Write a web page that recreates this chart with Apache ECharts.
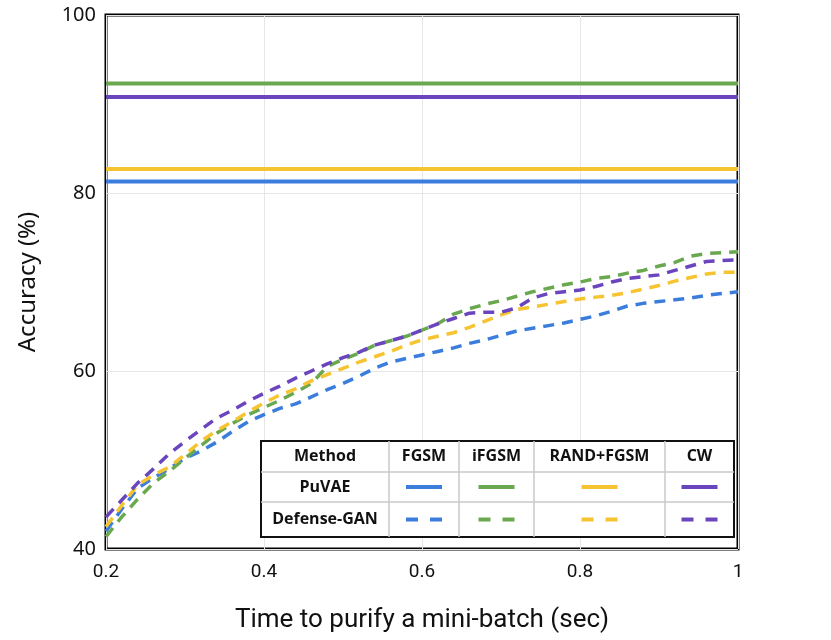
<!DOCTYPE html>
<html>
<head>
<meta charset="utf-8">
<script src="https://cdn.jsdelivr.net/npm/echarts@6/dist/echarts.min.js"></script>
<style>
  html, body { margin: 0; padding: 0; background: #fff; }
  #chart { width: 831px; height: 640px; }
</style>
</head>
<body>
<div id="chart"></div>
<script>
// x axis: time to purify (sec)
const times = [0.2, 0.22, 0.24, 0.26, 0.28, 0.3, 0.32, 0.34, 0.36, 0.38,
  0.4, 0.42, 0.44, 0.46, 0.48, 0.5, 0.52, 0.54, 0.56, 0.58,
  0.6, 0.62, 0.64, 0.66, 0.68, 0.7, 0.72, 0.74, 0.76, 0.78,
  0.8, 0.82, 0.84, 0.86, 0.88, 0.9, 0.92, 0.94, 0.96, 0.98, 1.0];

// attacks (column order of the legend table)
const attacks = ["FGSM", "iFGSM", "RAND+FGSM", "CW"];
const colors = ["#3b7ddd", "#6aa84f", "#f6c331", "#6a45be"];

// PuVAE accuracy (constant)
const puvae = [81.3, 92.3, 82.7, 90.8];

// Defense-GAN accuracy over time
const ganFGSM = [42.0, 44.5, 46.8, 48.0, 49.0, 50.2, 51.0, 52.0, 53.2, 54.3,
  55.1, 55.8, 56.3, 57.1, 57.9, 58.6, 59.4, 60.3, 61.0, 61.4,
  61.8, 62.2, 62.6, 63.1, 63.5, 64.0, 64.5, 64.8, 65.1, 65.4,
  65.8, 66.2, 66.7, 67.3, 67.6, 67.8, 68.0, 68.2, 68.5, 68.7, 68.9];
const ganIFGSM = [41.4, 43.6, 45.6, 47.4, 48.7, 50.2, 51.6, 53.0, 54.1, 55.1,
  55.9, 56.7, 57.6, 58.6, 60.5, 61.3, 62.0, 62.9, 63.4, 63.9,
  64.6, 65.3, 66.4, 67.0, 67.5, 67.9, 68.4, 68.9, 69.3, 69.7,
  70.0, 70.4, 70.6, 71.0, 71.3, 71.8, 72.2, 72.9, 73.2, 73.3, 73.4];
const ganRAND = [42.5, 44.9, 47.2, 48.3, 49.2, 50.6, 52.1, 53.3, 54.3, 55.4,
  56.4, 57.3, 58.0, 58.9, 59.6, 60.3, 61.0, 61.6, 62.2, 62.9,
  63.5, 63.9, 64.3, 64.9, 65.6, 66.3, 66.9, 67.2, 67.5, 67.8,
  68.1, 68.3, 68.5, 68.8, 69.2, 69.6, 70.1, 70.5, 70.9, 71.1, 71.1];
const ganCW = [43.6, 45.5, 47.4, 49.0, 50.7, 52.1, 53.4, 54.7, 55.6, 56.6,
  57.5, 58.3, 59.2, 60.0, 60.8, 61.5, 62.1, 62.9, 63.4, 63.9,
  64.6, 65.3, 65.9, 66.5, 66.6, 66.6, 67.1, 68.2, 68.7, 68.9,
  69.1, 69.5, 70.0, 70.4, 70.6, 70.8, 71.3, 71.8, 72.3, 72.4, 72.5];
const ganAll = [ganFGSM, ganIFGSM, ganRAND, ganCW];

// legend table labels
const methods = ["PuVAE", "Defense-GAN"];
const headerLabel = "Method";

const chart = echarts.init(document.getElementById("chart"));

const DASH = [11, 8];
const series = [];
// Defense-GAN dashed curves first, PuVAE flat lines on top
attacks.forEach((a, i) => {
  series.push({
    name: "Defense-GAN " + a,
    type: "line",
    showSymbol: false,
    data: times.map((t, k) => [t, ganAll[i][k]]),
    lineStyle: { color: colors[i], width: 3.5, type: DASH },
    z: 2
  });
});
attacks.forEach((a, i) => {
  series.push({
    name: "PuVAE " + a,
    type: "line",
    showSymbol: false,
    data: [[times[0], puvae[i]], [times[times.length - 1], puvae[i]]],
    lineStyle: { color: colors[i], width: 4 },
    z: 3
  });
});

// legend table (drawn by hand, like the original figure)
const tbl = { left: 261, top: 441, right: 734, bottom: 537 };
const colX = [261, 389, 459, 534, 665, 734];
const rowY = [441, 472, 502, 537];
const graphics = [];
graphics.push({
  type: "rect", z: 10,
  shape: { x: tbl.left, y: tbl.top, width: tbl.right - tbl.left, height: tbl.bottom - tbl.top },
  style: { fill: "#fff", stroke: "#111", lineWidth: 2 }
});
colX.slice(1, -1).forEach(x => {
  graphics.push({ type: "line", z: 11, shape: { x1: x, y1: tbl.top, x2: x, y2: tbl.bottom },
    style: { stroke: "#c8c8c8", lineWidth: 1.5 } });
});
rowY.slice(1, -1).forEach(y => {
  graphics.push({ type: "line", z: 11, shape: { x1: tbl.left, y1: y, x2: tbl.right, y2: y },
    style: { stroke: "#c8c8c8", lineWidth: 1.5 } });
});
const cellText = (txt, c, r) => ({
  type: "text", z: 12,
  x: (colX[c] + colX[c + 1]) / 2, y: (rowY[r] + rowY[r + 1]) / 2,
  style: { text: txt, font: "bold 16px 'Open Sans', 'Noto Sans', sans-serif", fill: "#111",
    align: "center", verticalAlign: "middle" }
});
graphics.push(cellText(headerLabel, 0, 0));
attacks.forEach((a, i) => graphics.push(cellText(a, i + 1, 0)));
methods.forEach((m, r) => graphics.push(cellText(m, 0, r + 1)));
attacks.forEach((a, i) => {
  const cx = (colX[i + 1] + colX[i + 2]) / 2;
  const y1 = (rowY[1] + rowY[2]) / 2;
  const y2 = (rowY[2] + rowY[3]) / 2;
  graphics.push({ type: "line", z: 12, shape: { x1: cx - 18, y1: y1, x2: cx + 18, y2: y1 },
    style: { stroke: colors[i], lineWidth: 4 } });
  graphics.push({ type: "line", z: 12, shape: { x1: cx - 18, y1: y2, x2: cx - 6, y2: y2 },
    style: { stroke: colors[i], lineWidth: 4 } });
  graphics.push({ type: "line", z: 12, shape: { x1: cx + 6, y1: y2, x2: cx + 18, y2: y2 },
    style: { stroke: colors[i], lineWidth: 4 } });
});

chart.setOption({
  animation: false,
  backgroundColor: "#fff",
  grid: {
    left: 106, top: 15, right: 93, bottom: 91,
    show: true, borderColor: "#000", borderWidth: 3, backgroundColor: "transparent",
    containLabel: false
  },
  xAxis: {
    type: "value",
    min: 0.2, max: 1, interval: 0.2,
    name: "Time to purify a mini-batch (sec)",
    nameLocation: "middle", nameGap: 58,
    nameTextStyle: { fontSize: 26, color: "#111", fontFamily: "Roboto" },
    axisLine: { show: false },
    axisTick: { show: false },
    axisLabel: { fontSize: 19, color: "#111", fontFamily: "Roboto", margin: 14,
      formatter: v => String(Math.round(v * 10) / 10) },
    splitLine: { show: true, lineStyle: { color: "#e6e6e6", width: 1 } }
  },
  yAxis: {
    type: "value",
    min: 40, max: 100, interval: 20,
    name: "Accuracy (%)",
    nameLocation: "middle", nameGap: 66, nameRotate: 90,
    nameTextStyle: { fontSize: 24, color: "#111", fontFamily: "'Noto Sans'" },
    axisLine: { show: false },
    axisTick: { show: false },
    axisLabel: { fontSize: 20, color: "#111", fontFamily: "'Noto Sans'", margin: 10 },
    splitLine: { show: true, lineStyle: { color: "#e6e6e6", width: 1 } }
  },
  series: series,
  graphic: graphics
});
</script>
</body>
</html>
